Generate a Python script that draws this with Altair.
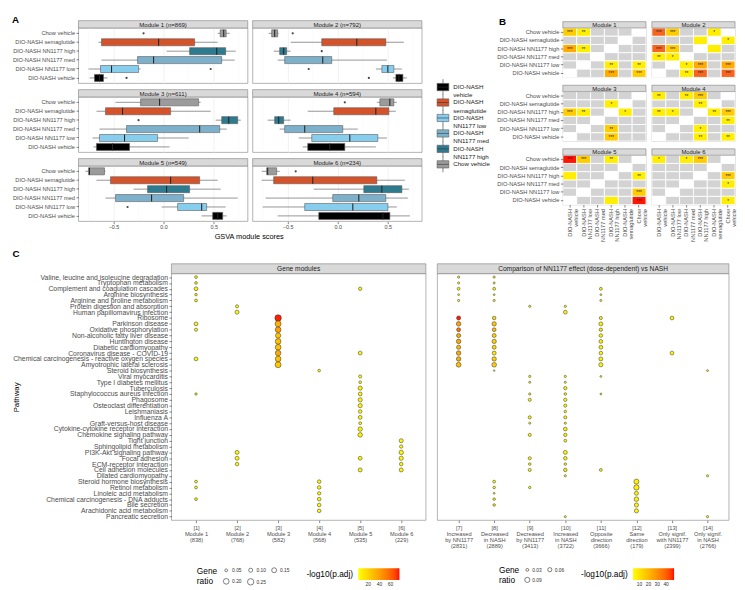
import json
import altair as alt
import pandas as pd

FONT = "Liberation Sans"
TXT = "#4d4d4d"
GRID = "#ebebeb"
BORDER = "#7f7f7f"
STRIP = "#d9d9d9"
NS_GREY = "#d3d3d3"

# ---------------- Panel A data ----------------
GROUPS = ["Chow vehicle", "DIO-NASH semaglutide", "DIO-NASH NN1177 high",
          "DIO-NASH NN1177 med", "DIO-NASH NN1177 low", "DIO-NASH vehicle"]
GROUP_COLORS = ["#9b9b9b", "#d4532a", "#2e7a8f", "#7db1cb", "#86cdee", "#000000"]
LEGEND_GROUPS = ["DIO-NASH vehicle", "DIO-NASH semaglutide", "DIO-NASH NN1177 low",
                 "DIO-NASH NN1177 med", "DIO-NASH NN1177 high", "Chow vehicle"]
LEGEND_LABELS = ["DIO-NASH\nvehicle", "DIO-NASH\nsemaglutide", "DIO-NASH\nNN1177 low",
                 "DIO-NASH\nNN1177 med", "DIO-NASH\nNN1177 high", "Chow vehicle"]
MODULE_TITLES = ["Module 1 (n=869)", "Module 2 (n=792)", "Module 3 (n=611)",
                 "Module 4 (n=594)", "Module 5 (n=549)", "Module 6 (n=234)"]
A_XTICKS = [-0.5, 0.0, 0.5]
A_MINOR = [-0.75, -0.25, 0.25, 0.75]
A_DOMAIN = [-0.85, 0.84]

# (lower whisker, q1, median, q3, upper whisker) in GROUPS order
BOX_M1 = [(0.54, 0.565, 0.60, 0.625, 0.66), (-0.65, -0.62, -0.05, 0.31, 0.54),
          (0.03, 0.26, 0.53, 0.62, 0.72), (-0.62, -0.26, -0.10, 0.58, 0.71),
          (-0.75, -0.63, -0.52, -0.25, -0.23), (-0.74, -0.69, -0.64, -0.60, -0.56)]
BOX_M2 = [(-0.69, -0.66, -0.63, -0.60, -0.59), (-0.47, -0.16, 0.19, 0.48, 0.66),
          (-0.64, -0.58, -0.54, -0.51, -0.47), (-0.60, -0.53, -0.15, -0.06, 0.49),
          (0.38, 0.44, 0.50, 0.56, 0.64), (0.55, 0.58, 0.61, 0.65, 0.69)]
BOX_M3 = [(-0.48, -0.23, -0.04, 0.35, 0.37), (-0.67, -0.58, -0.41, 0.07, 0.47),
          (0.52, 0.58, 0.65, 0.74, 0.77), (-0.64, -0.37, 0.36, 0.56, 0.63),
          (-0.71, -0.64, -0.39, -0.06, 0.25), (-0.70, -0.67, -0.51, -0.34, 0.06)]
BOX_M4 = [(0.39, 0.42, 0.52, 0.56, 0.59), (-0.30, -0.04, 0.38, 0.51, 0.58),
          (-0.70, -0.63, -0.59, -0.54, -0.47), (-0.58, -0.53, -0.33, 0.05, 0.20),
          (-0.39, -0.26, 0.12, 0.40, 0.49), (-0.35, -0.30, -0.08, 0.07, 0.38)]
BOX_M5 = [(-0.78, -0.75, -0.74, -0.59, -0.58), (-0.67, -0.53, 0.07, 0.36, 0.54),
          (-0.30, -0.16, 0.03, 0.26, 0.57), (-0.58, -0.48, -0.12, 0.20, 0.74),
          (-0.02, 0.14, 0.38, 0.43, 0.62), (0.38, 0.49, 0.54, 0.59, 0.63)]
BOX_M6 = [(-0.76, -0.71, -0.70, -0.61, -0.58), (-0.76, -0.64, -0.25, 0.39, 0.67),
          (-0.24, 0.26, 0.44, 0.64, 0.71), (-0.72, -0.05, 0.21, 0.48, 0.70),
          (-0.75, -0.33, 0.15, 0.50, 0.59), (-0.60, -0.19, 0.45, 0.52, 0.72)]
BOX_STATS = [BOX_M1, BOX_M2, BOX_M3, BOX_M4, BOX_M5, BOX_M6]
OUTLIERS = [(0, "Chow vehicle", -0.20), (0, "DIO-NASH NN1177 low", 0.47), (0, "DIO-NASH vehicle", -0.37),
            (1, "Chow vehicle", -0.45), (1, "DIO-NASH NN1177 high", -0.16),
            (1, "DIO-NASH NN1177 low", -0.29), (1, "DIO-NASH vehicle", 0.31),
            (2, "DIO-NASH NN1177 high", -0.25), (3, "Chow vehicle", 0.07),
            (4, "DIO-NASH NN1177 low", -0.36), (5, "Chow vehicle", -0.42)]

# ---------------- Panel B data ----------------
COMPARE_ORDER = ["DIO-NASH vehicle", "DIO-NASH NN1177 low", "DIO-NASH NN1177 med",
                 "DIO-NASH NN1177 high", "DIO-NASH semaglutide", "Chow vehicle"]
HEAT_LEVELS = ["1", "2", "3", "4", "5"]
HEAT_COLORS = ["#ffee00", "#ffcc00", "#ffab00", "#f6641f", "#ff1500"]
# W = same group, G = not significant, else level digit + stars
HEAT_M1 = [["2***", "1**", "G", "G", "G", "W"], ["G", "G", "G", "G", "W", "G"],
           ["3***", "1**", "G", "W", "G", "G"], ["G", "G", "W", "G", "G", "G"],
           ["G", "W", "G", "1**", "G", "1**"], ["W", "G", "G", "3***", "G", "2***"]]
HEAT_M2 = [["4***", "2***", "G", "G", "1*", "W"], ["G", "G", "G", "1", "W", "1*"],
           ["4***", "2***", "G", "W", "1", "G"], ["1**", "1*", "W", "G", "G", "G"],
           ["G", "W", "1*", "3***", "G", "3***"], ["W", "G", "1**", "4***", "G", "4***"]]
HEAT_M3 = [["G", "G", "G", "G", "G", "W"], ["G", "G", "G", "1*", "W", "G"],
           ["2***", "1**", "G", "W", "1*", "G"], ["G", "G", "W", "G", "G", "G"],
           ["G", "W", "G", "2**", "G", "G"], ["W", "G", "G", "2***", "G", "G"]]
HEAT_M4 = [["1**", "G", "1**", "2***", "G", "W"], ["G", "G", "G", "1**", "W", "G"],
           ["1**", "1*", "G", "W", "1**", "2***"], ["G", "G", "W", "G", "G", "1**"],
           ["G", "W", "G", "1*", "G", "G"], ["W", "G", "G", "1**", "G", "1**"]]
HEAT_M5 = [["5***", "2***", "G", "1**", "G", "W"], ["G", "G", "G", "G", "W", "G"],
           ["1", "G", "G", "W", "G", "1**"], ["G", "G", "W", "G", "G", "G"],
           ["G", "W", "G", "G", "G", "2***"], ["W", "G", "G", "1", "G", "5***"]]
HEAT_M6 = [["1*", "G", "1*", "2***", "G", "W"], ["G", "G", "G", "G", "W", "G"],
           ["G", "G", "G", "W", "G", "2***"], ["G", "G", "W", "G", "G", "1*"],
           ["G", "W", "G", "G", "G", "G"], ["W", "G", "G", "G", "G", "1*"]]
HEAT = [HEAT_M1, HEAT_M2, HEAT_M3, HEAT_M4, HEAT_M5, HEAT_M6]
HEAT_TITLES = ["Module 1", "Module 2", "Module 3", "Module 4", "Module 5", "Module 6"]

# ---------------- Panel C data ----------------
PATHWAYS = [
    "Valine, leucine and isoleucine degradation", "Tryptophan metabolism",
    "Complement and coagulation cascades", "Arginine biosynthesis",
    "Arginine and proline metabolism", "Protein digestion and absorption",
    "Human papillomavirus infection", "Ribosome", "Parkinson disease",
    "Oxidative phosphorylation", "Non-alcoholic fatty liver disease", "Huntington disease",
    "Diabetic cardiomyopathy", "Coronavirus disease - COVID-19",
    "Chemical carcinogenesis - reactive oxygen species", "Amyotrophic lateral sclerosis",
    "Steroid biosynthesis", "Viral myocarditis", "Type I diabetes mellitus", "Tuberculosis",
    "Staphylococcus aureus infection", "Phagosome", "Osteoclast differentiation",
    "Leishmaniasis", "Influenza A", "Graft-versus-host disease",
    "Cytokine-cytokine receptor interaction", "Chemokine signaling pathway", "Tight junction",
    "Sphingolipid metabolism", "PI3K-Akt signaling pathway", "Focal adhesion",
    "ECM-receptor interaction", "Cell adhesion molecules", "Dilated cardiomyopathy",
    "Steroid hormone biosynthesis", "Retinol metabolism", "Linoleic acid metabolism",
    "Chemical carcinogenesis - DNA adducts", "Bile secretion", "Arachidonic acid metabolism",
    "Pancreatic secretion"]

GM_KEYS = ["[1]", "[2]", "[3]", "[4]", "[5]", "[6]"]
GM_NAMES = ["Module 1", "Module 2", "Module 3", "Module 4", "Module 5", "Module 6"]
GM_SIZES = ["(838)", "(768)", "(582)", "(568)", "(535)", "(229)"]
CMP_KEYS = ["[7]", "[8]", "[9]", "[10]", "[11]", "[12]", "[13]", "[14]"]
CMP_NAMES = [["Increased", "by NN1177"], ["Decreased", "in NASH"], ["Decreased", "by NN1177"],
             ["Increased", "in NASH"], ["Opposite", "direction"], ["Same", "direction"],
             ["Only signif.", "with NN1177"], ["Only signif.", "in NASH"]]
CMP_SIZES = ["(2831)", "(2889)", "(3413)", "(3722)", "(3666)", "(179)", "(2399)", "(2766)"]

# (pathway index, column index, gene ratio, -log10(p.adj))
GM_DOTS = [
    (0, 0, 0.05, 4), (1, 0, 0.045, 3), (2, 0, 0.09, 8), (3, 0, 0.04, 3), (4, 0, 0.05, 3),
    (8, 0, 0.09, 5), (9, 0, 0.06, 4), (14, 0, 0.09, 5), (20, 0, 0.035, 2), (35, 0, 0.05, 3),
    (36, 0, 0.05, 3), (38, 0, 0.05, 3),
    (5, 1, 0.06, 3), (6, 1, 0.10, 5), (30, 1, 0.10, 5), (31, 1, 0.10, 5), (32, 1, 0.08, 4),
    (7, 2, 0.26, 74), (8, 2, 0.22, 33), (9, 2, 0.20, 40), (10, 2, 0.17, 25), (11, 2, 0.20, 28),
    (12, 2, 0.20, 27), (13, 2, 0.19, 36), (14, 2, 0.20, 27), (15, 2, 0.22, 24),
    (16, 3, 0.045, 3), (35, 3, 0.08, 5), (36, 3, 0.08, 5), (37, 3, 0.07, 4), (38, 3, 0.08, 5),
    (39, 3, 0.08, 5), (40, 3, 0.08, 5),
    (2, 4, 0.07, 4), (13, 4, 0.09, 5), (17, 4, 0.06, 3), (18, 4, 0.045, 3), (19, 4, 0.11, 6),
    (20, 4, 0.09, 5), (21, 4, 0.11, 7), (22, 4, 0.11, 6), (23, 4, 0.08, 5), (24, 4, 0.09, 5),
    (25, 4, 0.05, 3), (26, 4, 0.12, 6), (27, 4, 0.13, 7), (31, 4, 0.09, 5), (33, 4, 0.10, 6),
    (28, 5, 0.10, 4), (29, 5, 0.07, 3), (30, 5, 0.12, 5), (31, 5, 0.11, 5), (32, 5, 0.08, 4),
    (33, 5, 0.10, 5)]
CMP_DOTS = [
    (0, 0, 0.02, 3), (1, 0, 0.018, 2.5), (2, 0, 0.03, 4), (3, 0, 0.015, 2), (4, 0, 0.02, 3),
    (7, 0, 0.06, 48), (8, 0, 0.07, 26), (9, 0, 0.055, 36), (10, 0, 0.06, 24), (11, 0, 0.07, 24),
    (12, 0, 0.06, 21), (13, 0, 0.07, 24), (14, 0, 0.07, 23), (15, 0, 0.08, 19),
    (0, 1, 0.02, 3), (1, 1, 0.018, 3), (2, 1, 0.03, 4), (3, 1, 0.015, 2), (4, 1, 0.02, 3),
    (7, 1, 0.045, 12), (8, 1, 0.065, 17), (9, 1, 0.05, 20), (10, 1, 0.055, 14), (11, 1, 0.065, 15),
    (12, 1, 0.055, 13), (13, 1, 0.055, 8), (14, 1, 0.065, 15), (15, 1, 0.075, 15), (16, 1, 0.012, 2),
    (35, 1, 0.03, 4), (36, 1, 0.025, 4), (37, 1, 0.015, 3), (38, 1, 0.025, 4), (39, 1, 0.025, 4),
    (5, 2, 0.02, 3), (17, 2, 0.02, 3), (18, 2, 0.018, 3), (20, 2, 0.02, 3), (21, 2, 0.035, 4),
    (24, 2, 0.035, 4), (25, 2, 0.018, 3), (27, 2, 0.035, 4), (31, 2, 0.035, 4), (32, 2, 0.025, 3),
    (33, 2, 0.035, 4), (36, 2, 0.022, 3),
    (5, 3, 0.02, 3), (6, 3, 0.05, 5), (17, 3, 0.02, 3), (18, 3, 0.018, 3), (19, 3, 0.04, 5),
    (20, 3, 0.025, 4), (21, 3, 0.04, 5), (22, 3, 0.035, 4), (23, 3, 0.025, 4), (24, 3, 0.035, 5),
    (25, 3, 0.02, 3), (26, 3, 0.05, 6), (27, 3, 0.04, 5), (28, 3, 0.03, 4), (30, 3, 0.055, 5),
    (31, 3, 0.045, 6), (32, 3, 0.025, 4), (33, 3, 0.045, 9), (34, 3, 0.02, 3), (41, 3, 0.018, 3),
    (2, 4, 0.03, 4), (3, 4, 0.015, 2), (4, 4, 0.018, 3), (7, 4, 0.035, 5), (8, 4, 0.055, 6),
    (9, 4, 0.04, 9), (10, 4, 0.045, 6), (11, 4, 0.05, 6), (12, 4, 0.05, 6), (13, 4, 0.045, 4),
    (14, 4, 0.055, 6), (15, 4, 0.06, 5), (17, 4, 0.015, 2), (20, 4, 0.015, 2), (33, 4, 0.03, 4),
    (35, 5, 0.085, 6), (36, 5, 0.095, 7), (37, 5, 0.055, 5), (38, 5, 0.07, 6), (39, 5, 0.06, 5),
    (40, 5, 0.06, 5),
    (7, 6, 0.05, 4), (13, 6, 0.05, 4),
    (16, 7, 0.015, 2), (34, 7, 0.02, 3), (41, 7, 0.02, 3)]

GM_COLOR_DOMAIN = [2, 76]
GM_COLOR_TICKS = [20, 40, 60]
CMP_COLOR_DOMAIN = [2.6, 49]
CMP_COLOR_TICKS = [10, 20, 30, 40]
GM_SIZE_DOMAIN = [0.03, 0.26]
GM_SIZE_TICKS = [0.05, 0.10, 0.15, 0.20, 0.25]
CMP_SIZE_DOMAIN = [0.01, 0.10]
CMP_SIZE_TICKS = [0.03, 0.06, 0.09]

# ---------------- layout sizes ----------------
W_A, H_A, S_A = 173, 56.5, 7.5
W_B, H_B, S_B = 85, 50.5, 6.5
W_CL, W_CR, H_C, S_C = 260, 298, 252, 10
W_LEG = 60
HIDE = alt.ViewBackground(stroke="transparent")


def strip(title, width, height, fsize):
    d = pd.DataFrame({"t": [title]})
    rect = alt.Chart(d).mark_rect(fill=STRIP, stroke=BORDER, strokeWidth=0.6).encode(
        x=alt.value(0), x2=alt.value(width), y=alt.value(-height), y2=alt.value(0))
    txt = alt.Chart(d).mark_text(fontSize=fsize, color="#1a1a1a", baseline="middle", font=FONT).encode(
        x=alt.value(width / 2), y=alt.value(-height / 2 + 0.4), text="t:N")
    return [rect, txt]


def letter(t, x, y):
    return alt.Chart(pd.DataFrame({"t": [t]})).mark_text(
        fontSize=10, fontWeight="bold", color="black", align="left", baseline="alphabetic",
        font=FONT).encode(x=alt.value(x), y=alt.value(y), text="t:N")


def spacer():
    return alt.Chart(pd.DataFrame({"a": [0]})).mark_rect(opacity=0).encode(
        x=alt.value(0), x2=alt.value(1), y=alt.value(0), y2=alt.value(1)).properties(
        width=1, height=1, view=HIDE)


def box_panel(k):
    show_y = k % 2 == 0
    show_x = k >= 4
    stats = BOX_STATS[k]
    df = pd.DataFrame({"group": GROUPS,
                       "lo": [s[0] for s in stats], "q1": [s[1] for s in stats],
                       "med": [s[2] for s in stats], "q3": [s[3] for s in stats],
                       "hi": [s[4] for s in stats]})
    od = pd.DataFrame([{"group": g, "v": v} for m, g, v in OUTLIERS if m == k])
    mdf = pd.DataFrame({"v": A_MINOR})
    xs = alt.Scale(domain=A_DOMAIN, nice=False, zero=False)
    ys = alt.Scale(domain=GROUPS, paddingInner=0, paddingOuter=0.1)
    if show_x:
        xa = alt.Axis(values=A_XTICKS, format=".1f", title=None, labelFontSize=5.5, labelColor=TXT,
                      tickSize=2.5, tickColor="#333333", tickWidth=0.6, domain=False,
                      gridColor=GRID, gridWidth=0.7, labelPadding=1)
    else:
        xa = alt.Axis(values=A_XTICKS, labels=False, ticks=False, title=None, domain=False,
                      gridColor=GRID, gridWidth=0.7)
    if show_y:
        ya = alt.Axis(title=None, labelFontSize=5.8, labelColor=TXT, tickSize=2.5, tickColor="#333333",
                      tickWidth=0.6, domain=False, gridColor=GRID, gridWidth=0.7, labelPadding=1.5,
                      labelLimit=200, labelOverlap=False)
    else:
        ya = alt.Axis(title=None, labels=False, ticks=False, domain=False, gridColor=GRID,
                      gridWidth=0.7)
    Y = alt.Y("group:N", scale=ys, axis=ya)
    minor = alt.Chart(mdf).mark_rule(color="#f5f5f5", strokeWidth=0.4).encode(
        x=alt.X("v:Q", scale=xs, axis=xa))
    whisk = alt.Chart(df).mark_rule(color="#4d4d4d", strokeWidth=0.6).encode(
        x=alt.X("lo:Q", scale=xs, axis=xa), x2="hi:Q", y=Y)
    box = alt.Chart(df).mark_bar(size=7.2, stroke="#5a5a5a", strokeWidth=0.6).encode(
        x=alt.X("q1:Q", scale=xs, axis=xa), x2="q3:Q", y=Y,
        color=alt.Color("group:N", scale=alt.Scale(domain=GROUPS, range=GROUP_COLORS), legend=None))
    med = alt.Chart(df).mark_tick(color="#262626", thickness=1.1, size=7.2, opacity=1).encode(
        x=alt.X("med:Q", scale=xs, axis=xa), y=Y)
    outl = alt.Chart(od).mark_circle(size=5, color="#444444", opacity=1).encode(
        x=alt.X("v:Q", scale=xs, axis=xa), y=Y)
    layers = [minor, whisk, box, med, outl] + strip(MODULE_TITLES[k], W_A, S_A, 6.2)
    if k == 0:
        layers.append(letter("A", -68, -5))
    return alt.layer(*layers).properties(width=W_A, height=H_A)


def heat_panel(k):
    show_y = k % 2 == 0
    show_x = k >= 4
    recs = []
    for r, g in enumerate(GROUPS):
        for c, cg in enumerate(COMPARE_ORDER):
            code = HEAT[k][r][c]
            if code == "W":
                kind, lvl, st = "diag", "", ""
            elif code == "G":
                kind, lvl, st = "ns", "", ""
            else:
                kind, lvl, st = "sig", code[0], code[1:]
            recs.append({"row": g, "col": cg, "kind": kind, "lvl": lvl, "stars": st})
    df = pd.DataFrame(recs)
    if show_x:
        xa = alt.Axis(title=None, labelAngle=270, labelAlign="right", labelBaseline="middle",
                      labelExpr="split(replace(datum.label, ' ', '|'), '|')", labelFontSize=5.8,
                      labelLineHeight=6.2, labelPadding=1.5, tickSize=2.5, tickColor="#333333",
                      tickWidth=0.6, domain=False, grid=False, labelOverlap=False, labelColor=TXT)
    else:
        xa = alt.Axis(title=None, labels=False, ticks=False, domain=False, grid=False)
    if show_y:
        ya = alt.Axis(title=None, labelFontSize=5.8, labelColor=TXT, tickSize=2.5, tickColor="#333333",
                      tickWidth=0.6, domain=False, grid=False, labelPadding=1.5, labelOverlap=False,
                      labelLimit=200)
    else:
        ya = alt.Axis(title=None, labels=False, ticks=False, domain=False, grid=False)
    X = alt.X("col:N", scale=alt.Scale(domain=COMPARE_ORDER, paddingInner=0, paddingOuter=0), axis=xa)
    Y = alt.Y("row:N", scale=alt.Scale(domain=GROUPS, paddingInner=0, paddingOuter=0), axis=ya)
    base = alt.Chart(df).mark_rect(stroke="white", strokeWidth=0.9).encode(
        x=X, y=Y, color=alt.condition("datum.kind == 'diag'", alt.value("white"), alt.value(NS_GREY)))
    sig = alt.Chart(df).transform_filter("datum.kind == 'sig'").mark_rect(
        stroke="white", strokeWidth=0.9).encode(
        x=X, y=Y, color=alt.Color("lvl:N", scale=alt.Scale(domain=HEAT_LEVELS, range=HEAT_COLORS),
                                  legend=None))
    stars = alt.Chart(df).transform_filter("datum.stars != ''").mark_text(
        fontSize=4.8, color="#222222", baseline="middle", dy=1.2).encode(x=X, y=Y, text="stars:N")
    layers = [base, sig, stars] + strip(HEAT_TITLES[k], W_B, S_B, 6.0)
    if k == 0:
        layers.append(letter("B", -65.3, -3.5))
    return alt.layer(*layers).properties(width=W_B, height=H_B)


def dot_panel(dots, keys, lines, width, show_y, title, cdom, cticks, sdom, srange, sticks,
              scols, gx, cx, ly):
    df = pd.DataFrame(dots, columns=["pi", "ci", "ratio", "logp"])
    df["path"] = [PATHWAYS[i] for i in df["pi"]]
    df["col"] = [keys[i] for i in df["ci"]]
    expr = "%s[indexof(%s, datum.label)]" % (json.dumps(lines), json.dumps(keys))
    xa = alt.Axis(title=None, labelExpr=expr, labelAngle=0, labelAlign="center", labelBaseline="top",
                  labelFontSize=5.8, labelLineHeight=6.2, labelPadding=2, tickSize=2.5,
                  tickColor="#333333", tickWidth=0.6, domain=False, gridColor=GRID, gridWidth=0.7,
                  labelOverlap=False, labelColor=TXT)
    if show_y:
        ya = alt.Axis(title="Pathway", titleFontSize=8, titleFontWeight="normal", titleColor="black",
                      titleX=-154, titleY=H_C / 2, labelFontSize=7, labelLimit=300,
                      labelOverlap=False, tickSize=2.5, tickColor="#333333", tickWidth=0.6,
                      domain=False, gridColor=GRID, gridWidth=0.7, labelPadding=1.5, labelColor=TXT)
    else:
        ya = alt.Axis(title=None, labels=False, ticks=False, domain=False, gridColor=GRID, gridWidth=0.7)
    X = alt.X("col:N", scale=alt.Scale(type="point", domain=keys, padding=0.6), axis=xa)
    Y = alt.Y("path:N", scale=alt.Scale(type="point", domain=PATHWAYS, padding=0.6), axis=ya)
    dots_layer = alt.Chart(df).mark_circle(stroke="#2a2a2a", strokeWidth=0.5, opacity=1).encode(
        x=X, y=Y,
        size=alt.Size("ratio:Q", scale=alt.Scale(domain=sdom, range=srange),
                      legend=alt.Legend(title=["Gene", "ratio"], orient="none", legendX=gx, legendY=ly,
                                        direction="horizontal", columns=scols, values=sticks,
                                        format=".2f", titleOrient="left", titleFontSize=8.5,
                                        titleFontWeight="normal", titleColor="black",
                                        labelFontSize=5, labelColor="#333333", symbolType="circle",
                                        symbolStrokeWidth=0.6, columnPadding=4, rowPadding=3,
                                        labelOffset=2, titlePadding=5)),
        color=alt.Color("logp:Q", scale=alt.Scale(domain=cdom, range=["#ffff00", "#ff0000"],
                                                  interpolate="lab"),
                        legend=alt.Legend(title="-log10(p.adj)", orient="none", legendX=cx,
                                          legendY=ly + 1, direction="horizontal", gradientLength=42,
                                          gradientThickness=12, values=cticks, titleOrient="left",
                                          titleFontSize=8.5, titleFontWeight="normal",
                                          titleColor="black", labelFontSize=5, labelColor="#333333",
                                          gradientStrokeWidth=0, titlePadding=5)))
    layers = [dots_layer] + strip(title, width, S_C, 6.8)
    if show_y:
        layers.append(letter("C", -162.5, -17))
    return alt.layer(*layers).properties(width=width, height=H_C)


# ---------------- Panel A ----------------
A_grid = alt.concat(*[box_panel(k) for k in range(6)], columns=2,
                    spacing={"row": 4.5, "column": 3})
xtitle = alt.Chart(pd.DataFrame({"t": ["GSVA module scores"]})).mark_text(
    fontSize=7.5, color="black", baseline="top", font=FONT).encode(
    x=alt.value(W_A + 1.5), y=alt.value(0), text="t:N").properties(width=1, height=1, view=HIDE)
A_block = alt.vconcat(A_grid, xtitle, spacing=1.5)

legdf = pd.DataFrame({"group": LEGEND_GROUPS, "label": LEGEND_LABELS, "i": list(range(6))})
LY = alt.Y("i:Q", scale=alt.Scale(domain=[-3.82, 6.94], reverse=True, nice=False, zero=False), axis=None)
leg_box = alt.Chart(legdf).mark_point(shape="M-1,-0.62H1V0.62H-1Z", filled=True, size=144,
                                      stroke="#5a5a5a", strokeWidth=0.6, opacity=1).encode(
    x=alt.value(13.5), y=LY,
    color=alt.Color("group:N", scale=alt.Scale(domain=GROUPS, range=GROUP_COLORS), legend=None))
leg_lines = alt.Chart(legdf).mark_point(shape="M-1,0H1M0,-0.62V-1.35M0,0.62V1.35", filled=False,
                                        size=144, color="#333333", strokeWidth=0.6, opacity=1).encode(
    x=alt.value(13.5), y=LY)
leg_text = alt.Chart(legdf).mark_text(align="left", baseline="middle", fontSize=6.3, lineBreak="\n",
                                      color="#1a1a1a", font=FONT).encode(
    x=alt.value(24), y=LY, text="label:N")
legendA = alt.layer(leg_box, leg_lines, leg_text).properties(width=W_LEG, height=170, view=HIDE)

# ---------------- Panel B ----------------
B_grid = alt.concat(*[heat_panel(k) for k in range(6)], columns=2,
                    spacing={"row": 5, "column": 3})

top_row = alt.hconcat(alt.hconcat(spacer(), A_block, spacing=0), legendA, B_grid,
                      spacing=6).resolve_scale(color="independent")

# ---------------- Panel C ----------------
gm_lines = [[k, "", n, s] for k, n, s in zip(GM_KEYS, GM_NAMES, GM_SIZES)]
cmp_lines = [[k, "", n[0], n[1], s] for k, n, s in zip(CMP_KEYS, CMP_NAMES, CMP_SIZES)]
C_left = dot_panel(GM_DOTS, GM_KEYS, gm_lines, W_CL, True, "Gene modules",
                   GM_COLOR_DOMAIN, GM_COLOR_TICKS, GM_SIZE_DOMAIN, [5, 44], GM_SIZE_TICKS, 3,
                   192, 304, H_C + 48)
C_right = dot_panel(CMP_DOTS, CMP_KEYS, cmp_lines, W_CR, False,
                    "Comparison of NN1177 effect (dose-dependent) vs NASH",
                    CMP_COLOR_DOMAIN, CMP_COLOR_TICKS, CMP_SIZE_DOMAIN, [2, 31], CMP_SIZE_TICKS, 2,
                    63, 147, H_C + 48)
C_row = alt.hconcat(alt.hconcat(spacer(), C_left, spacing=0), C_right,
                    spacing=9.7).resolve_scale(color="independent", size="independent")

chart = alt.vconcat(top_row, C_row, spacing=6).resolve_scale(
    color="independent", size="independent").properties(padding=0).configure_view(
    stroke=BORDER, strokeWidth=0.6).configure_axis(
    labelFont=FONT, titleFont=FONT).configure_title(font=FONT, color="black").configure_legend(
    labelFont=FONT, titleFont=FONT, symbolBaseFillColor="white",
    symbolBaseStrokeColor="black").configure_text(font=FONT)

chart.save("out.html", embed_options={"renderer": "svg", "actions": False})
